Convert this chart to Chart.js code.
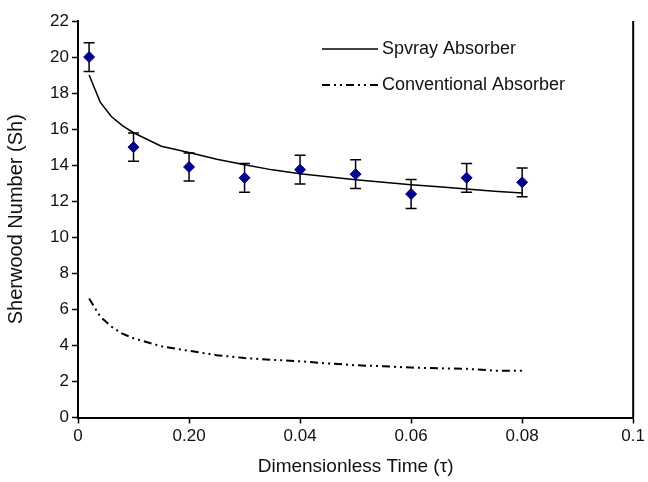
<!DOCTYPE html>
<html>
<head>
<meta charset="utf-8">
<script src="https://cdn.jsdelivr.net/npm/chart.js@4.4.0/dist/chart.umd.min.js"></script>
<style>
  html, body { margin: 0; padding: 0; background: #fff; }
  #wrap { width: 648px; height: 482px; }
</style>
</head>
<body>
<div id="wrap"><canvas id="chart" width="648" height="482"></canvas></div>
<script>
// ==== Data ====
const tExp = [0.002, 0.01, 0.02, 0.03, 0.04, 0.05, 0.06, 0.07, 0.08];
const shExp = [20.0, 15.0, 13.9, 13.3, 13.75, 13.5, 12.4, 13.3, 13.05];
const shErr = [0.8, 0.78, 0.78, 0.8, 0.8, 0.8, 0.8, 0.8, 0.8];

const tModel = [0.002, 0.004, 0.006, 0.008, 0.01, 0.015, 0.02, 0.025, 0.03, 0.035,
  0.04, 0.045, 0.05, 0.055, 0.06, 0.065, 0.07, 0.075, 0.08];
const shSpray = [19.0, 17.5, 16.7, 16.2, 15.8, 15.05, 14.7, 14.33, 14.02, 13.74,
  13.53, 13.36, 13.19, 13.05, 12.92, 12.8, 12.68, 12.56, 12.45];
const shConv = [6.6, 5.6, 5.05, 4.65, 4.4, 3.95, 3.7, 3.46, 3.3, 3.2,
  3.12, 3.0, 2.9, 2.84, 2.77, 2.73, 2.7, 2.6, 2.6];

const xTickLabels = ["0", "0.20", "0.04", "0.06", "0.08", "0.1"];
const legendLabels = ["Spvray Absorber", "Conventional Absorber"];

const FONT = "'Liberation Sans', Arial, sans-serif";
const convDash = [8, 4, 2, 4, 2, 4];

const toPts = (xs, ys) => xs.map((x, i) => ({ x: x, y: ys[i] }));

// ==== Plugins ====
const errorBars = {
  id: "errorBars",
  beforeDatasetsDraw(chart) {
    const { ctx, scales: { x, y } } = chart;
    ctx.save();
    ctx.strokeStyle = "#000";
    ctx.lineWidth = 1.5;
    tExp.forEach((t, i) => {
      const px = x.getPixelForValue(t);
      const top = y.getPixelForValue(shExp[i] + shErr[i]);
      const bot = y.getPixelForValue(shExp[i] - shErr[i]);
      ctx.beginPath();
      ctx.moveTo(px, top); ctx.lineTo(px, bot);
      ctx.moveTo(px - 5.5, top); ctx.lineTo(px + 5.5, top);
      ctx.moveTo(px - 5.5, bot); ctx.lineTo(px + 5.5, bot);
      ctx.stroke();
    });
    ctx.restore();
  }
};

const frameAndLegend = {
  id: "frameAndLegend",
  afterDraw(chart) {
    const { ctx, chartArea: a } = chart;
    ctx.save();
    // right border of plot area
    ctx.strokeStyle = "#000";
    ctx.lineWidth = 2;
    ctx.beginPath();
    ctx.moveTo(a.right, a.top);
    ctx.lineTo(a.right, a.bottom);
    ctx.stroke();

    // legend
    const lx = 322, lw = 56, rows = [49, 85];
    ctx.font = "18px " + FONT;
    ctx.fillStyle = "#111";
    ctx.textBaseline = "middle";
    rows.forEach((ry, i) => {
      ctx.beginPath();
      ctx.lineWidth = i === 0 ? 1.5 : 2;
      ctx.setLineDash(i === 0 ? [] : convDash);
      ctx.moveTo(lx, ry);
      ctx.lineTo(lx + lw, ry);
      ctx.stroke();
      ctx.setLineDash([]);
      ctx.fillText(legendLabels[i], lx + lw + 4, ry);
    });
    ctx.restore();
  }
};

// ==== Chart ====
const ctx = document.getElementById("chart").getContext("2d");
new Chart(ctx, {
  type: "scatter",
  data: {
    datasets: [
      {
        label: "Spray",
        data: toPts(tModel, shSpray),
        showLine: true,
        borderColor: "#000",
        borderWidth: 1.5,
        pointRadius: 0,
        tension: 0
      },
      {
        label: "Conventional",
        data: toPts(tModel, shConv),
        showLine: true,
        borderColor: "#000",
        borderWidth: 2,
        borderDash: convDash,
        pointRadius: 0,
        tension: 0
      },
      {
        label: "Experimental",
        data: toPts(tExp, shExp),
        pointStyle: "rectRot",
        pointRadius: 5.5,
        pointBackgroundColor: "#00008B",
        pointBorderColor: "#00008B",
        pointBorderWidth: 1
      }
    ]
  },
  options: {
    responsive: false,
    animation: false,
    devicePixelRatio: 1,
    layout: { padding: { top: 21, right: 14.5, left: 0, bottom: 0 } },
    plugins: { legend: { display: false }, tooltip: { enabled: false } },
    scales: {
      x: {
        type: "linear",
        min: 0,
        max: 0.1,
        afterFit: s => { s.height = 64.5; },
        afterBuildTicks: s => {
          s.ticks = xTickLabels.map((_, i) => ({ value: i * 0.02 }));
        },
        ticks: {
          color: "#111",
          font: { family: FONT, size: 17 },
          padding: 3,
          maxRotation: 0,
          callback: (v, i) => xTickLabels[i]
        },
        grid: { drawOnChartArea: false, tickLength: 6, tickColor: "#000", tickWidth: 1.5 },
        border: { color: "#000", width: 2 },
        title: {
          display: true,
          text: "Dimensionless Time (τ)",
          color: "#111",
          font: { family: FONT, size: 19 },
          padding: { top: 2 }
        }
      },
      y: {
        min: 0,
        max: 22,
        afterFit: s => { s.width = 78; },
        ticks: {
          stepSize: 2,
          color: "#111",
          font: { family: FONT, size: 17 },
          padding: 3
        },
        grid: { drawOnChartArea: false, tickLength: 6, tickColor: "#000", tickWidth: 1.5 },
        border: { color: "#000", width: 2 },
        title: {
          display: true,
          text: "Sherwood Number (Sh)",
          color: "#111",
          font: { family: FONT, size: 20 },
          padding: { bottom: 0 }
        }
      }
    }
  },
  plugins: [errorBars, frameAndLegend]
});
</script>
</body>
</html>
